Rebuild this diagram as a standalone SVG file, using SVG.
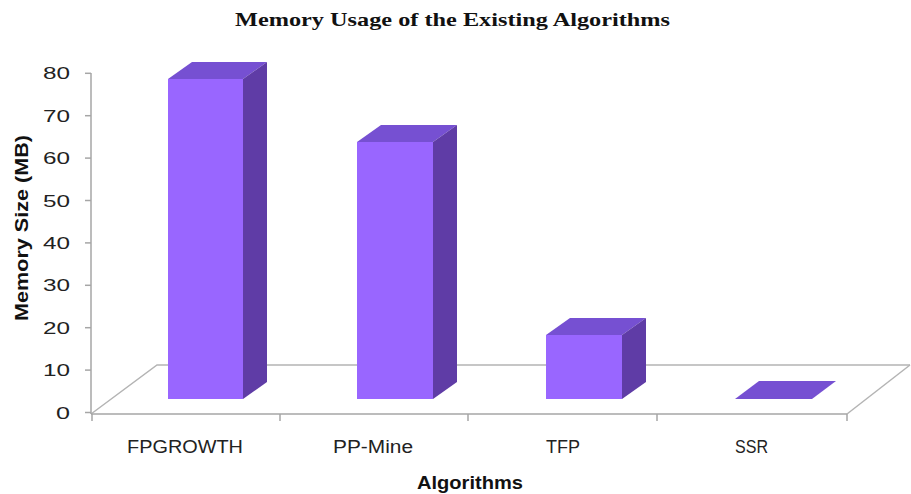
<svg xmlns="http://www.w3.org/2000/svg" width="911" height="494" viewBox="0 0 911 494">
  <style>
    .title { font-family: "Liberation Serif", "Times New Roman", serif; font-weight: bold; font-size: 19px; fill: #111111; }
    .tick { font-family: "Liberation Sans", Arial, sans-serif; font-size: 17px; fill: #222222; }
    .cat { font-family: "Liberation Sans", Arial, sans-serif; font-size: 18px; fill: #222222; }
    .axis-title { font-family: "Liberation Sans", Arial, sans-serif; font-weight: bold; font-size: 19px; fill: #111111; }
    .grid { stroke: #b4b4b4; stroke-width: 1.5; fill: none; }
    .axis { stroke: #a6a6a6; stroke-width: 1.5; fill: none; }
    .front { fill: #9966ff; }
    .top { fill: #7650d2; }
    .side { fill: #5f3ca6; }
  </style>
  <rect width="911" height="494" fill="#ffffff"/>

  <!-- chart title -->
  <text class="title" x="235" y="26" textLength="435" lengthAdjust="spacingAndGlyphs">Memory  Usage of the Existing Algorithms</text>

  <!-- floor of the 3-D plot area -->
  <g id="floor">
    <polyline class="grid" points="91,414 157,365 910,365"/>
    <line class="grid" x1="847" y1="414" x2="910" y2="365"/>
  </g>

  <!-- axes and ticks -->
  <g id="axes">
    <line class="axis" x1="91" y1="73" x2="91" y2="414"/>
    <line class="axis" x1="91" y1="414" x2="847" y2="414"/>
    <g class="axis">
      <line x1="85" y1="73.3" x2="91" y2="73.3"/>
      <line x1="85" y1="115.7" x2="91" y2="115.7"/>
      <line x1="85" y1="158.1" x2="91" y2="158.1"/>
      <line x1="85" y1="200.5" x2="91" y2="200.5"/>
      <line x1="85" y1="242.9" x2="91" y2="242.9"/>
      <line x1="85" y1="285.3" x2="91" y2="285.3"/>
      <line x1="85" y1="327.7" x2="91" y2="327.7"/>
      <line x1="85" y1="370.1" x2="91" y2="370.1"/>
      <line x1="85" y1="412.5" x2="91" y2="412.5"/>
      <line x1="92" y1="414" x2="92" y2="421"/>
      <line x1="280" y1="414" x2="280" y2="421"/>
      <line x1="468" y1="414" x2="468" y2="421"/>
      <line x1="657" y1="414" x2="657" y2="421"/>
      <line x1="847" y1="414" x2="847" y2="421"/>
    </g>
    <g class="tick">
      <text x="43" y="79.3" textLength="27" lengthAdjust="spacingAndGlyphs">80</text>
      <text x="43" y="121.7" textLength="27" lengthAdjust="spacingAndGlyphs">70</text>
      <text x="43" y="164.1" textLength="27" lengthAdjust="spacingAndGlyphs">60</text>
      <text x="43" y="206.5" textLength="27" lengthAdjust="spacingAndGlyphs">50</text>
      <text x="43" y="248.9" textLength="27" lengthAdjust="spacingAndGlyphs">40</text>
      <text x="43" y="291.3" textLength="27" lengthAdjust="spacingAndGlyphs">30</text>
      <text x="43" y="333.7" textLength="27" lengthAdjust="spacingAndGlyphs">20</text>
      <text x="43" y="376.1" textLength="27" lengthAdjust="spacingAndGlyphs">10</text>
      <text x="56" y="418.5" textLength="14" lengthAdjust="spacingAndGlyphs">0</text>
    </g>
  </g>

  <!-- bars: front face, top face, side face -->
  <g id="bar-fpgrowth">
    <rect class="front" x="168" y="79" width="75" height="320"/>
    <polygon class="top" points="168,79 192,62 267,62 243,79"/>
    <polygon class="side" points="243,79 267,62 267,382 243,399"/>
  </g>
  <g id="bar-ppmine">
    <rect class="front" x="357" y="142" width="76" height="257"/>
    <polygon class="top" points="357,142 381,125 457,125 433,142"/>
    <polygon class="side" points="433,142 457,125 457,382 433,399"/>
  </g>
  <g id="bar-tfp">
    <rect class="front" x="546" y="335" width="76" height="64"/>
    <polygon class="top" points="546,335 570,318 646,318 622,335"/>
    <polygon class="side" points="622,335 646,318 646,382 622,399"/>
  </g>
  <g id="bar-ssr">
    <polygon class="top" points="735,399 812,399 836,381 759,381"/>
  </g>

  <!-- category labels -->
  <g class="cat">
    <text x="127" y="453" textLength="116" lengthAdjust="spacingAndGlyphs">FPGROWTH</text>
    <text x="333" y="453" textLength="80" lengthAdjust="spacingAndGlyphs">PP-Mine</text>
    <text x="546" y="453" textLength="34" lengthAdjust="spacingAndGlyphs">TFP</text>
    <text x="735" y="453" textLength="33" lengthAdjust="spacingAndGlyphs">SSR</text>
  </g>

  <!-- axis titles -->
  <text class="axis-title" x="417" y="489" textLength="106" lengthAdjust="spacingAndGlyphs">Algorithms</text>
  <text class="axis-title" transform="translate(28,228) rotate(-90)" x="-93" y="0" textLength="186" lengthAdjust="spacingAndGlyphs">Memory Size  (MB)</text>
</svg>
